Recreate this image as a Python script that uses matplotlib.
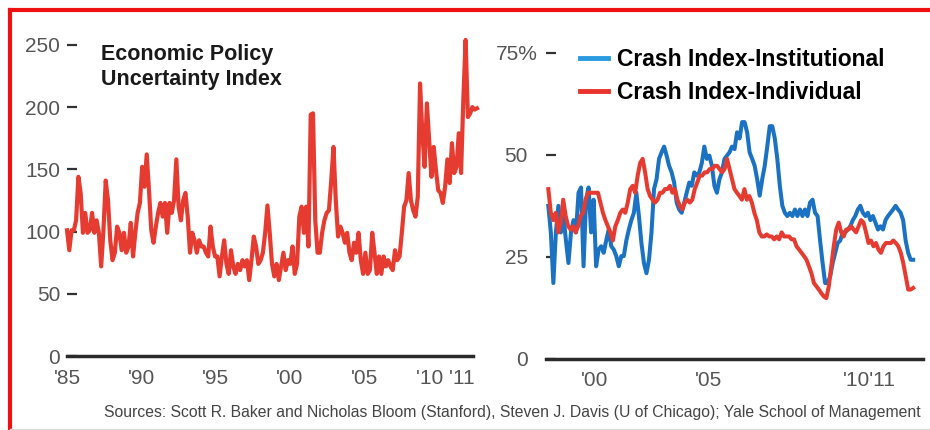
import numpy as np
import matplotlib.pyplot as plt
from matplotlib.lines import Line2D
from matplotlib.transforms import ScaledTranslation

# Economic Policy Uncertainty Index, 1985 - mid 2012
epu = [101, 85, 101, 101, 109, 144, 131, 99, 115, 99,
       101, 115, 99, 109, 99, 72, 101, 141, 125, 93,
       77, 83, 104, 99, 85, 99, 83, 88, 107, 80,
       99, 115, 123, 152, 136, 162, 133, 101, 91, 104,
       115, 123, 112, 123, 99, 123, 115, 125, 158, 120,
       109, 125, 131, 112, 83, 99, 93, 83, 93, 88,
       88, 83, 80, 104, 88, 80, 80, 64, 80, 93,
       74, 66, 85, 72, 66, 74, 69, 77, 72, 77,
       61, 77, 96, 88, 74, 77, 83, 99, 121, 99,
       74, 64, 74, 61, 72, 83, 69, 77, 74, 88,
       66, 74, 112, 120, 99, 120, 88, 194, 195, 109,
       83, 83, 99, 109, 115, 117, 141, 168, 125, 96,
       104, 99, 91, 99, 83, 77, 91, 83, 99, 77,
       66, 83, 66, 69, 99, 83, 66, 80, 66, 80,
       72, 77, 72, 69, 85, 77, 80, 99, 120, 125,
       147, 125, 117, 112, 128, 219, 179, 152, 203, 174,
       144, 168, 149, 133, 131, 123, 136, 158, 139, 171,
       147, 152, 179, 147, 206, 254, 192, 195, 200, 198,
       199]

# Yale crash confidence index, percent
inst = [37.5, 31, 18.6, 31, 37.5, 31, 35, 29, 23.5, 31,
        34, 31, 40.7, 42, 22.7, 39, 42, 31, 39, 22.7,
        26.8, 27.6, 26, 29, 31.7, 27.6, 26.8, 25.2, 22.7, 25.2,
        25.2, 29, 31.7, 34, 35.8, 40.7, 35, 28.4, 23.5, 21,
        24.3, 31, 41.6, 44, 49, 50.6, 52, 49.8, 47.3, 45.7,
        43.2, 38.3, 36.6, 35.8, 38.3, 40.7, 43.2, 42.4, 45.7, 44.9,
        45.7, 48, 52, 49, 49.8, 47.3, 42.4, 40.7, 44, 45.7,
        49, 49.8, 50.6, 52, 51.4, 55.5, 54, 58, 58, 55.5,
        50.6, 49, 47.3, 44, 40, 44, 47.3, 52, 57, 57,
        54, 49, 42.4, 37.5, 35.8, 35, 35.8, 35, 36.6, 35,
        36.6, 35, 36.6, 35, 38.3, 39, 35.8, 35, 29, 23.5,
        18.6, 18.6, 20.2, 23.5, 26, 28.4, 29, 31, 31, 31.7,
        32.5, 34, 35, 36.6, 37.5, 35.8, 35, 35.8, 34, 35,
        33.4, 31.7, 32.5, 31.7, 34, 35, 35.8, 36.6, 37.5, 36.6,
        35.8, 34, 29, 26, 24.3, 24.3]

indiv = [41.6, 35.8, 34, 35.8, 31, 33.4, 39, 35, 32.5, 31.7,
         32.5, 31, 32.5, 35, 35.8, 39, 40.7, 40.7, 40.7, 40.7,
         40.7, 38.3, 35.8, 34, 32.5, 31, 29, 32.5, 34, 35.8,
         36.6, 35.8, 38.3, 41.6, 42.4, 40.7, 44.9, 48, 49, 45.7,
         41.6, 39.9, 39, 38.3, 39, 40.7, 40.7, 41.6, 41.6, 42.4,
         40.7, 41.6, 39, 37.5, 36.6, 38.3, 39, 38.3, 39, 41.6,
         43.2, 44.9, 44.9, 45.7, 45.7, 46.5, 46.5, 47.3, 47.3, 46.5,
         45.7, 46.5, 49, 46.5, 44, 41.6, 40.7, 39.9, 39, 41.6,
         39, 39.9, 38.3, 35.8, 34, 31, 30, 30, 30.5, 30,
         30, 29.3, 30, 29.3, 31, 30, 30, 30, 29.3, 29.3,
         27.6, 26.8, 26, 25.2, 24.3, 22.7, 21, 18.6, 17.8, 17,
         16.1, 15.3, 14.9, 17.8, 22.7, 27.6, 31.7, 33.4, 31, 30,
         31.7, 31.7, 32.5, 31.7, 31, 32.5, 34, 33.4, 31, 28.4,
         29, 27.6, 28.4, 26.8, 26, 27.6, 28.4, 28.4, 28.4, 29,
         28.4, 27.6, 26, 23.5, 20.2, 17, 17, 17.4]

epu_years = np.linspace(1985, 2012.6, len(epu))
inst_years = np.linspace(1998.35, 2012.49, len(inst))
indiv_years = np.linspace(1998.35, 2012.49, len(indiv))

left_ticks = [1985, 1990, 1995, 2000, 2005, 2010.5]
left_labels = ["'85", "'90", "'95", "'00", "'05", "'10 '11"]
left_yticks = [0, 50, 100, 150, 200, 250]
right_ticks = [2000.15, 2004.55, 2010.8]
right_labels = ["'00", "'05", "'10'11"]
right_yticks = [0, 25, 50, 75]
right_ylabels = ["0", "25", "50", "75%"]

RED = '#e63b30'
BLUE = '#1b72c2'
FONT = 'Liberation Sans'

W, H = 930, 430
fig = plt.figure(figsize=(W / 100, H / 100), dpi=100)
fig.patch.set_facecolor('white')


def px_axes(x0, y0, x1, y1):
    # box given in pixels, origin top-left
    return fig.add_axes([x0 / W, 1 - y1 / H, (x1 - x0) / W, (y1 - y0) / H])


def style(ax):
    for s in ax.spines.values():
        s.set_visible(False)
    ax.tick_params(axis='x', length=0, pad=9, labelsize=15, labelcolor='#555555')
    ax.tick_params(axis='y', direction='in', length=7, width=1.6, color='#333333',
                   labelsize=15, labelcolor='#555555')
    for lab in ax.get_xticklabels() + ax.get_yticklabels():
        lab.set_fontfamily(FONT)


# left panel
ax1 = px_axes(67, 20, 477, 356)
ax1.plot(epu_years, epu, color=RED, lw=3.0, solid_joinstyle='round', clip_on=False)
ax1.set_xlim(1985, 2012.6)
ax1.set_ylim(0, 270)
ax1.axhline(0, xmin=0, xmax=0.99, color='#2b2b2b', lw=2.5, clip_on=False)
ax1.set_xticks(left_ticks, left_labels)
ax1.set_yticks(left_yticks)
style(ax1)
ax1.tick_params(axis='y', pad=5)
ax1.text(0.083, 0.93, 'Economic Policy\nUncertainty Index', transform=ax1.transAxes,
         fontfamily=FONT, fontweight='bold', fontsize=15.5, color='#1a1a1a',
         va='top', ha='left', linespacing=1.25)

# right panel
ax2 = px_axes(546, 20, 923, 359)
ax2.plot(inst_years, inst, color=BLUE, lw=2.9, solid_joinstyle='round')
ax2.plot(indiv_years, indiv, color=RED, lw=2.9, solid_joinstyle='round')
ax2.set_xlim(1998.26, 2012.87)
ax2.set_ylim(0, 83)
ax2.axhline(0, color='#2b2b2b', lw=2.5, clip_on=False)
ax2.set_xticks(right_ticks, right_labels)
ax2.set_yticks(right_yticks, right_ylabels)
style(ax2)
ax2.tick_params(axis='y', pad=13)
for lab in ax2.get_yticklabels():
    if lab.get_text().endswith('%'):
        lab.set_transform(lab.get_transform() + ScaledTranslation(10 / 100, 0, fig.dpi_scale_trans))

handles = [Line2D([], [], color='#2a9ae0', lw=3.5), Line2D([], [], color='#e8322b', lw=3.5)]
ax2.legend(handles, ['Crash Index-Institutional', 'Crash Index-Individual'],
           loc='upper left', bbox_to_anchor=(580 / W, 1 - 48 / H), bbox_transform=fig.transFigure,
           frameon=False, handlelength=1.2, handletextpad=0.4, borderaxespad=0, borderpad=0,
           labelspacing=0.45, prop={'family': FONT, 'weight': 'bold', 'size': 16.5})

fig.text(921 / W, 1 - 412 / H,
         'Sources: Scott R. Baker and Nicholas Bloom (Stanford), Steven J. Davis (U of Chicago); '
         'Yale School of Management', ha='right', va='center', fontfamily=FONT,
         fontsize=11.35, color='#444444')

# frame lines
fig.add_artist(Line2D([9.5 / W, 1], [1 - 9.5 / H, 1 - 9.5 / H], color='#ee1111', lw=3,
                      transform=fig.transFigure))
fig.add_artist(Line2D([9.5 / W, 9.5 / W], [0, 1 - 9.5 / H], color='#ee1111', lw=3,
                      transform=fig.transFigure))
fig.add_artist(Line2D([9.5 / W, 1], [1.5 / H, 1.5 / H], color='#dddddd', lw=1,
                      transform=fig.transFigure))

fig.savefig('out.png', dpi=100)
